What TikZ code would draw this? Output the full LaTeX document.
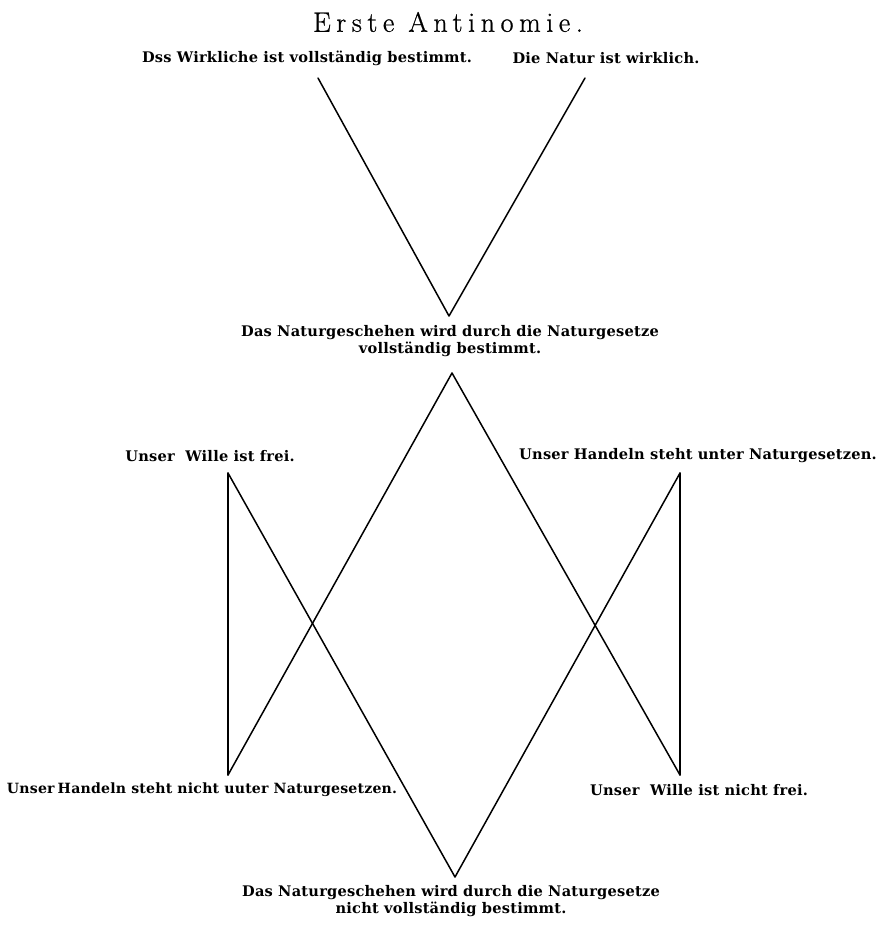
\documentclass[tikz,border=0pt]{standalone}
\usepackage{fontspec}
\newfontfamily\labfont{DejaVu Serif}[LetterSpace=1.5]
\newfontfamily\titlefont{Latin Modern Roman}[LetterSpace=20,FakeBold=0.8]
\tikzset{
  lab/.style={font=\labfont\bfseries\fontsize{14.6}{17.5}\selectfont, align=center, inner sep=0pt},
  ttl/.style={font=\titlefont\fontsize{28}{30}\selectfont, inner sep=0pt},
  edge/.style={line width=1.5pt, line cap=round, line join=round}
}
\begin{document}
\begin{tikzpicture}[x=1pt,y=-1pt]
\useasboundingbox[fill=white] (0,0) rectangle (876,929);
% title
\node[ttl] (title) at (448,22) {Erste Antinomie.};
% top labels
\node[lab] (wirk) at (307,58) {Dss Wirkliche ist vollständig bestimmt.};
\node[lab] (natur) at (606,58) {Die Natur ist wirklich.};
\node[lab] (mid) at (450,341) {Das Naturgeschehen wird durch die Naturgesetze\\vollständig bestimmt.};
\node[lab] (wfrei) at (210,456) {Unser\ \ Wille ist frei.};
\node[lab] (hunter) at (698,456) {Unser Handeln steht unter Naturgesetzen.};
\node[lab, font=\labfont\bfseries\fontsize{14.1}{17}\selectfont] (hnicht) at (202,790) {Unser\kern-2pt{} Handeln steht nicht uuter Naturgesetzen.};
\node[lab] (wnicht) at (699,790) {Unser\ \ Wille ist nicht frei.};
\node[lab] (bot) at (451,901) {Das Naturgeschehen wird durch die Naturgesetze\\nicht vollständig bestimmt.};
% vertices
\coordinate (vA) at (318,78);
\coordinate (vB) at (585,78);
\coordinate (vC) at (449,316);
\coordinate (dT) at (452,373);
\coordinate (dUL) at (228,473);
\coordinate (dUR) at (680,473);
\coordinate (dLL) at (228,775);
\coordinate (dLR) at (680,775);
\coordinate (dB) at (455,877);
% lines
\draw[edge] (vA) -- (vC) -- (vB);
\draw[edge] (dT) -- (dLL);
\draw[edge] (dT) -- (dLR);
\draw[edge] (dUL) -- (dB);
\draw[edge] (dUR) -- (dB);
\draw[edge] (dUL) -- (dLL);
\draw[edge] (dUR) -- (dLR);
\end{tikzpicture}
\end{document}
